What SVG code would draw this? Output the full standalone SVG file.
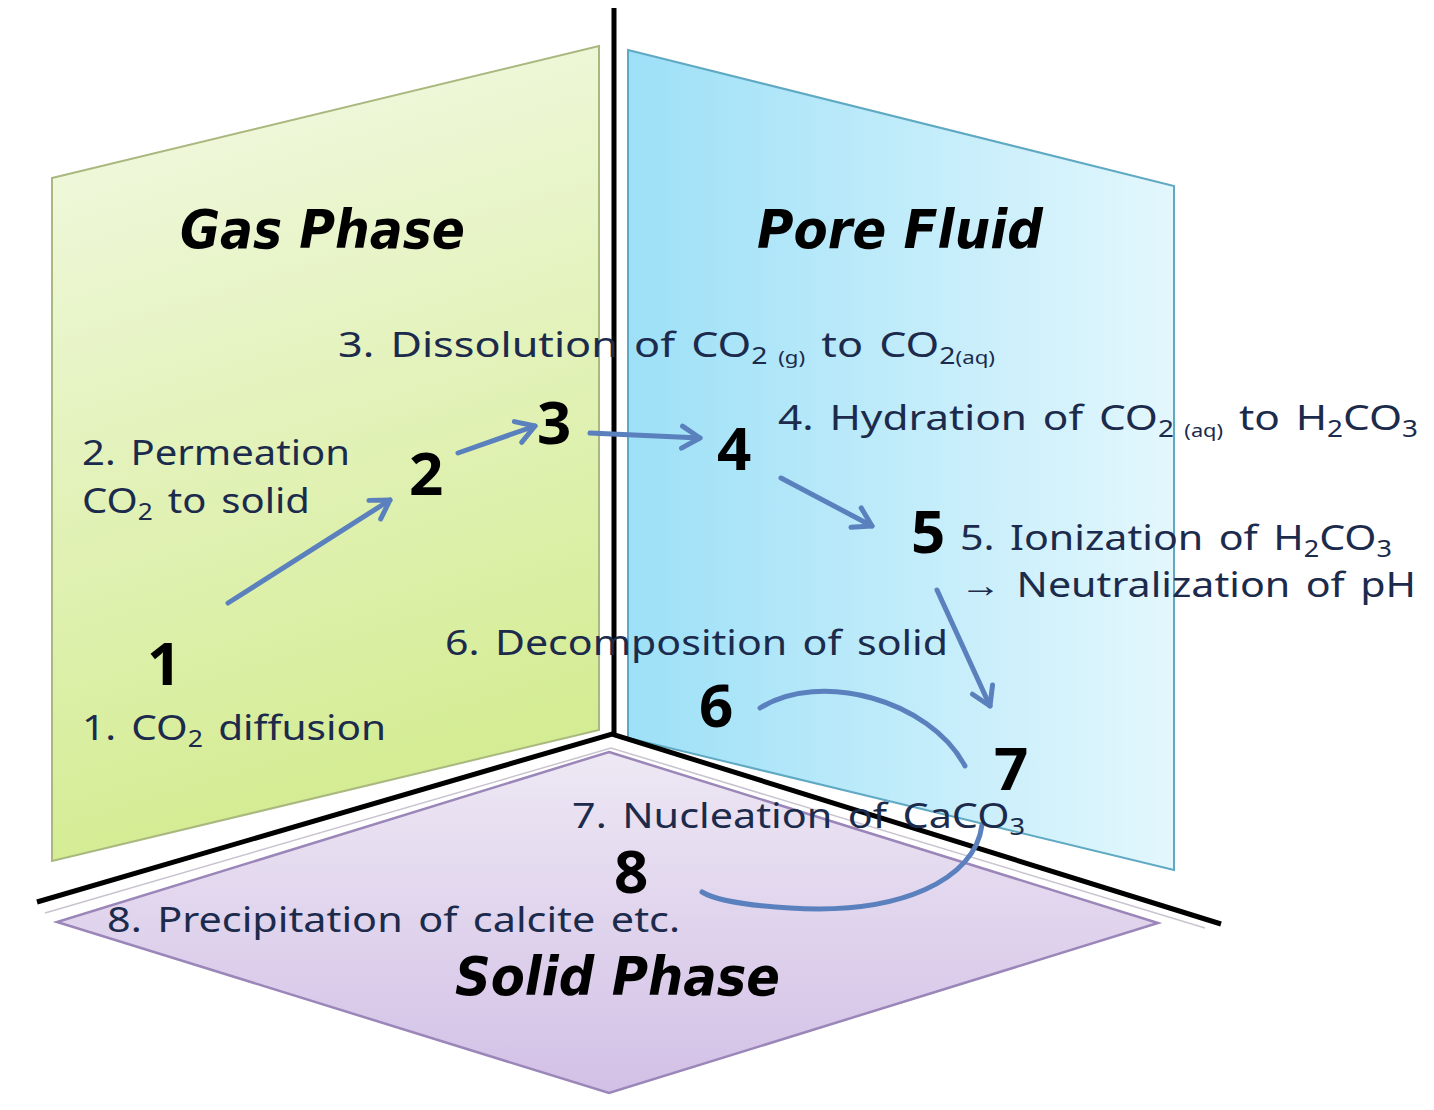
<svg xmlns="http://www.w3.org/2000/svg" width="1434" height="1110" viewBox="0 0 1434 1110">
<defs>
<linearGradient id="gGas" x1="0" y1="0" x2="0.2" y2="1">
<stop offset="0" stop-color="#f3f9e6"/>
<stop offset="1" stop-color="#d4ec92"/>
</linearGradient>
<linearGradient id="gPore" x1="0" y1="0" x2="1" y2="0">
<stop offset="0" stop-color="#9de0f7"/>
<stop offset="1" stop-color="#e3f7fd"/>
</linearGradient>
<linearGradient id="gSolid" x1="0" y1="0" x2="0" y2="1">
<stop offset="0" stop-color="#eee8f4"/>
<stop offset="1" stop-color="#d2c0e6"/>
</linearGradient>
<marker id="ah" markerUnits="userSpaceOnUse" markerWidth="30" markerHeight="30" viewBox="0 0 30 30" refX="26" refY="15" orient="auto">
<path d="M8,4 L26,15 L8,26" fill="none" stroke="#5a80bd" stroke-width="5" stroke-linecap="round" stroke-linejoin="round"/>
</marker>
<style>
.title{font-family:"DejaVu Sans",Verdana,sans-serif;font-weight:bold;font-style:italic;font-size:54px;fill:#000}
.body{font-family:"Noto Sans","Open Sans",sans-serif;font-size:35px;fill:#1c2b4c;word-spacing:4px}
.sub{font-size:23px}
.tiny{font-size:18px}
.num{font-family:"Noto Sans","Liberation Sans",sans-serif;font-weight:bold;font-size:60px;fill:#000}
.arr{fill:none;stroke:#5a80bd;stroke-width:5;stroke-linecap:round}
.axis{fill:none;stroke:#000;stroke-width:5}
.bevel{fill:none;stroke:#c9c3cf;stroke-width:1.5}
</style>
</defs>
<rect width="1434" height="1110" fill="#fff"/>

<g id="gas-phase">
<polygon points="52,178 599,46 599,730 52,861" fill="url(#gGas)" stroke="#a9b87e" stroke-width="2"/>
<text class="title" x="180" y="248" textLength="285" lengthAdjust="spacingAndGlyphs">Gas Phase</text>
</g>
<g id="pore-fluid">
<polygon points="628,50 1174,186 1174,870 628,738" fill="url(#gPore)" stroke="#5fa9c2" stroke-width="2"/>
<text class="title" x="757" y="248" textLength="286" lengthAdjust="spacingAndGlyphs">Pore Fluid</text>
</g>
<g id="solid-phase">
<polyline class="bevel" points="45,913 611,748 1205,928"/>
<polygon points="609,752 1158,923 609,1093 57,922" fill="url(#gSolid)" stroke="#9a86b8" stroke-width="2.5"/>
<text class="title" x="455" y="995" textLength="325" lengthAdjust="spacingAndGlyphs">Solid Phase</text>
</g>

<g id="axes">
<line class="axis" x1="614" y1="8" x2="614" y2="736"/>
<polyline class="axis" points="37,902 612,734 1221,924"/>
</g>

<g id="connectors">
<line class="arr" x1="228" y1="603" x2="390" y2="500" marker-end="url(#ah)"/>
<line class="arr" x1="458" y1="453" x2="535" y2="426" marker-end="url(#ah)"/>
<line class="arr" x1="590" y1="433" x2="700" y2="438" marker-end="url(#ah)"/>
<line class="arr" x1="781" y1="478" x2="872" y2="526" marker-end="url(#ah)"/>
<line class="arr" x1="937" y1="590" x2="990" y2="706" marker-end="url(#ah)"/>
<path class="arr" d="M760,708 C820,670 930,700 965,766" stroke-width="6"/>
<path class="arr" d="M982,825 C975,880 900,915 790,908 C740,905 715,900 702,892" stroke-width="6"/>
</g>

<g id="step-1">
<text class="num" x="147" y="685">1</text>
<text class="body" x="82" y="740" textLength="304" lengthAdjust="spacingAndGlyphs">1. CO<tspan class="sub" dy="7">2</tspan><tspan dy="-7"> diffusion</tspan></text>
</g>
<g id="step-2">
<text class="num" x="409" y="495">2</text>
<text class="body" x="82" y="465" textLength="268" lengthAdjust="spacingAndGlyphs">2. Permeation</text>
<text class="body" x="82" y="513" textLength="228" lengthAdjust="spacingAndGlyphs">CO<tspan class="sub" dy="7">2</tspan><tspan dy="-7"> to solid</tspan></text>
</g>
<g id="step-3">
<text class="num" x="537" y="444">3</text>
<text class="body" x="338" y="357" textLength="657" lengthAdjust="spacingAndGlyphs">3. Dissolution  of  CO<tspan class="sub" dy="7">2</tspan><tspan class="tiny"> (g)</tspan><tspan dy="-7">  to  CO</tspan><tspan class="sub" dy="7">2</tspan><tspan class="tiny">(aq)</tspan></text>
</g>
<g id="step-4">
<text class="num" x="717" y="470">4</text>
<text class="body" x="778" y="430" textLength="640" lengthAdjust="spacingAndGlyphs">4. Hydration  of  CO<tspan class="sub" dy="7">2</tspan><tspan class="tiny"> (aq)</tspan><tspan dy="-7">  to  H</tspan><tspan class="sub" dy="7">2</tspan><tspan dy="-7">CO</tspan><tspan class="sub" dy="7">3</tspan></text>
</g>
<g id="step-5">
<text class="num" x="911" y="553">5</text>
<text class="body" x="960" y="550" textLength="432" lengthAdjust="spacingAndGlyphs">5. Ionization  of  H<tspan class="sub" dy="7">2</tspan><tspan dy="-7">CO</tspan><tspan class="sub" dy="7">3</tspan></text>
<text class="body" x="960" y="597" textLength="456" lengthAdjust="spacingAndGlyphs">→ Neutralization  of  pH</text>
</g>
<g id="step-6">
<text class="num" x="699" y="727">6</text>
<text class="body" x="445" y="655" textLength="503" lengthAdjust="spacingAndGlyphs">6. Decomposition  of  solid</text>
</g>
<g id="step-7">
<text class="num" x="994" y="790">7</text>
<text class="body" x="572" y="828" textLength="453" lengthAdjust="spacingAndGlyphs">7. Nucleation  of  CaCO<tspan class="sub" dy="7">3</tspan></text>
</g>
<g id="step-8">
<text class="num" x="614" y="893">8</text>
<text class="body" x="107" y="932" textLength="573" lengthAdjust="spacingAndGlyphs">8. Precipitation  of  calcite etc.</text>
</g>
</svg>
